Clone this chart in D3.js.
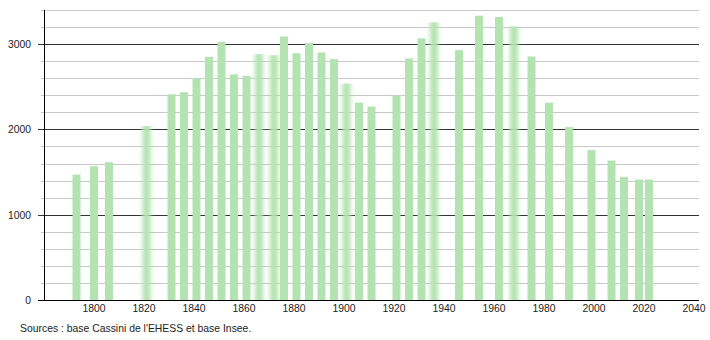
<!DOCTYPE html>
<html>
<head>
<meta charset="utf-8">
<script src="https://cdn.jsdelivr.net/npm/d3@7"></script>
<style>
  body { margin: 0; background: #fff; }
  text { font-family: "Liberation Sans", Arial, sans-serif; }
</style>
</head>
<body>
<div id="chart"></div>
<script>
// census years and population
const years = [1793, 1800, 1806, 1821, 1831, 1836, 1841, 1846, 1851, 1856, 1861, 1866, 1872, 1876,
  1881, 1886, 1891, 1896, 1901, 1906, 1911, 1921, 1926, 1931, 1936, 1946, 1954, 1962, 1968,
  1975, 1982, 1990, 1999, 2007, 2012, 2018, 2022];
const population = [1470, 1569, 1616, 2039, 2412, 2435, 2596, 2851, 3027, 2645, 2627, 2882, 2870, 3090,
  2894, 3012, 2902, 2824, 2537, 2314, 2267, 2400, 2831, 3067, 3255, 2929, 3333, 3318, 3208,
  2855, 2314, 2027, 1757, 1635, 1443, 1412, 1412];
// bars that look smeared in the original picture
const softYears = [1821, 1866, 1872, 1901, 1936, 1968];
const xTicks = [1800, 1820, 1840, 1860, 1880, 1900, 1920, 1940, 1960, 1980, 2000, 2020, 2040];
const yMajor = [0, 1000, 2000, 3000];
const yMinor = d3.range(200, 3401, 200).filter(v => v % 1000 !== 0);
const source = "Sources : base Cassini de l'EHESS et base Insee.";

const data = years.map((y, i) => ({year: y, pop: population[i]}));

const width = 710, height = 340;
const margin = {top: 10, right: 10, bottom: 40, left: 44};

const svg = d3.select("#chart")
    .append("svg")
    .attr("width", width)
    .attr("height", height);

svg.append("defs").append("filter")
    .attr("id", "soft")
    .attr("x", "-60%").attr("width", "220%")
  .append("feGaussianBlur")
    .attr("stdDeviation", "2 0");

const x = d3.scaleLinear()
    .domain([1780, 2042])
    .range([margin.left, width - margin.right - 1]);

const y = d3.scaleLinear()
    .domain([0, 3400])
    .range([height - margin.bottom, margin.top]);

// grid
svg.append("g").selectAll("line")
    .data(yMinor)
    .join("line")
    .attr("x1", margin.left - 3).attr("x2", x.range()[1])
    .attr("y1", d => Math.round(y(d)) + 0.5).attr("y2", d => Math.round(y(d)) + 0.5)
    .attr("stroke", "#c8c8c8");

svg.append("g").selectAll("line")
    .data(yMajor.slice(1))
    .join("line")
    .attr("x1", margin.left - 6).attr("x2", x.range()[1])
    .attr("y1", d => Math.round(y(d)) + 0.5).attr("y2", d => Math.round(y(d)) + 0.5)
    .attr("stroke", "#333");

// bars
const barW = 8;
svg.append("g").selectAll("rect")
    .data(data)
    .join("rect")
    .attr("x", d => x(d.year) - barW / 2)
    .attr("width", barW)
    .attr("y", d => y(d.pop))
    .attr("height", d => y(0) - y(d.pop))
    .attr("fill", "#b3e3b0")
    .attr("filter", d => softYears.includes(d.year) ? "url(#soft)" : null);

// axes
svg.append("line")
    .attr("x1", margin.left + 0.5).attr("x2", margin.left + 0.5)
    .attr("y1", margin.top).attr("y2", y(0))
    .attr("stroke", "#000");
svg.append("line")
    .attr("x1", margin.left - 6).attr("x2", x.range()[1])
    .attr("y1", y(0) + 0.5).attr("y2", y(0) + 0.5)
    .attr("stroke", "#000");

const fs = 10.4;

svg.append("g").selectAll("text")
    .data(yMajor)
    .join("text")
    .attr("x", 31)
    .attr("y", d => y(d) + 4)
    .attr("text-anchor", "end")
    .attr("font-size", fs)
    .attr("fill", "#222")
    .text(d => d);

svg.append("g").selectAll("text")
    .data(xTicks)
    .join("text")
    .attr("x", d => x(d))
    .attr("y", 312)
    .attr("text-anchor", "middle")
    .attr("font-size", fs)
    .attr("fill", "#222")
    .text(d => d);

svg.append("text")
    .attr("x", 20)
    .attr("y", 332)
    .attr("font-size", fs)
    .attr("fill", "#222")
    .text(source);
</script>
</body>
</html>
